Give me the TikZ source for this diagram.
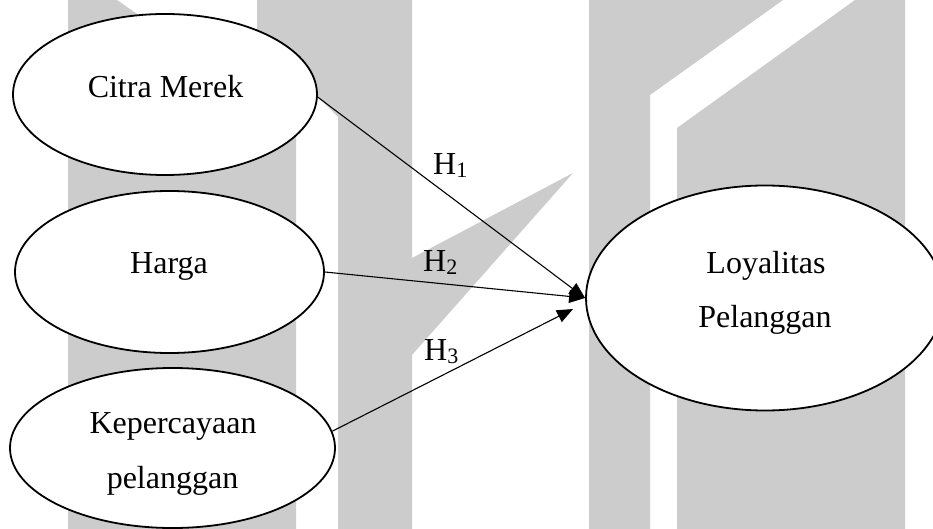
\documentclass[tikz,border=0pt]{standalone}
\usepackage{fontspec}
\setmainfont{Liberation Serif}
\usetikzlibrary{shapes.geometric,arrows.meta}
\definecolor{wmgray}{RGB}{204,204,204}
\tikzset{
  construct/.style={ellipse, draw=black, line width=1.8pt, fill=white, inner sep=0pt},
  caption/.style={anchor=base, inner sep=0pt, font=\fontsize{32}{38}\selectfont},
  hyp/.style={anchor=base west, inner sep=0pt, font=\fontsize{32}{38}\selectfont},
  link/.style={line width=1.1pt, -{Triangle[length=16pt,width=13pt]}},
  backdrop/.style={fill=wmgray, draw=none}
}
\newcommand{\hyplabel}[1]{H\raisebox{-3pt}{\fontsize{22}{22}\selectfont #1}}
\begin{document}
\begin{tikzpicture}[x=1pt,y=-1pt]
  \useasboundingbox (0,0) rectangle (933,529);
  \fill[white] (0,0) rectangle (933,529);

  % background logo bands
  \path[backdrop] (68,0) -- (117,0) -- (296,125) -- (296,529) -- (68,529) -- cycle;
  \path[backdrop] (257,0) -- (412,0) -- (412,258) -- (573,173) -- (412,355)
                  -- (412,529) -- (338,529) -- (338,117) -- (257,36) -- cycle;
  \path[backdrop] (589,0) -- (783,0) -- (650,95) -- (650,529) -- (589,529) -- cycle;
  \path[backdrop] (855,0) -- (905,0) -- (905,529) -- (677,529) -- (677,128) -- cycle;

  % constructs
  \node[construct, minimum width=304pt, minimum height=161pt] (citra) at (165,94.5) {};
  \node[construct, minimum width=309pt, minimum height=162pt] (harga) at (169.5,272) {};
  \node[construct, minimum width=325pt, minimum height=160pt] (kep)   at (172.5,448) {};
  \node[construct, minimum width=358pt, minimum height=225pt] (loyal) at (765,298) {};

  \node[caption] (citraT)  at (165.5,98) {Citra Merek};
  \node[caption] (hargaT)  at (169,273)  {Harga};
  \node[caption] (kepT1)   at (173,433)  {Kepercayaan};
  \node[caption] (kepT2)   at (172.5,488) {pelanggan};
  \node[caption] (loyalT1) at (766,273)  {Loyalitas};
  \node[caption] (loyalT2) at (765,327)  {Pelanggan};

  % hypothesised paths
  \coordinate (h3tip) at (573,309);
  \draw[link] (citra.-1) -- (loyal.west);
  \draw[link] (harga.east) -- (loyal.west);
  \draw[link] (kep.6) -- (h3tip);

  \node[hyp] (h1) at (433,175) {\hyplabel{1}};
  \node[hyp] (h2) at (423,271) {\hyplabel{2}};
  \node[hyp] (h3) at (424,360) {\hyplabel{3}};
\end{tikzpicture}
\end{document}
